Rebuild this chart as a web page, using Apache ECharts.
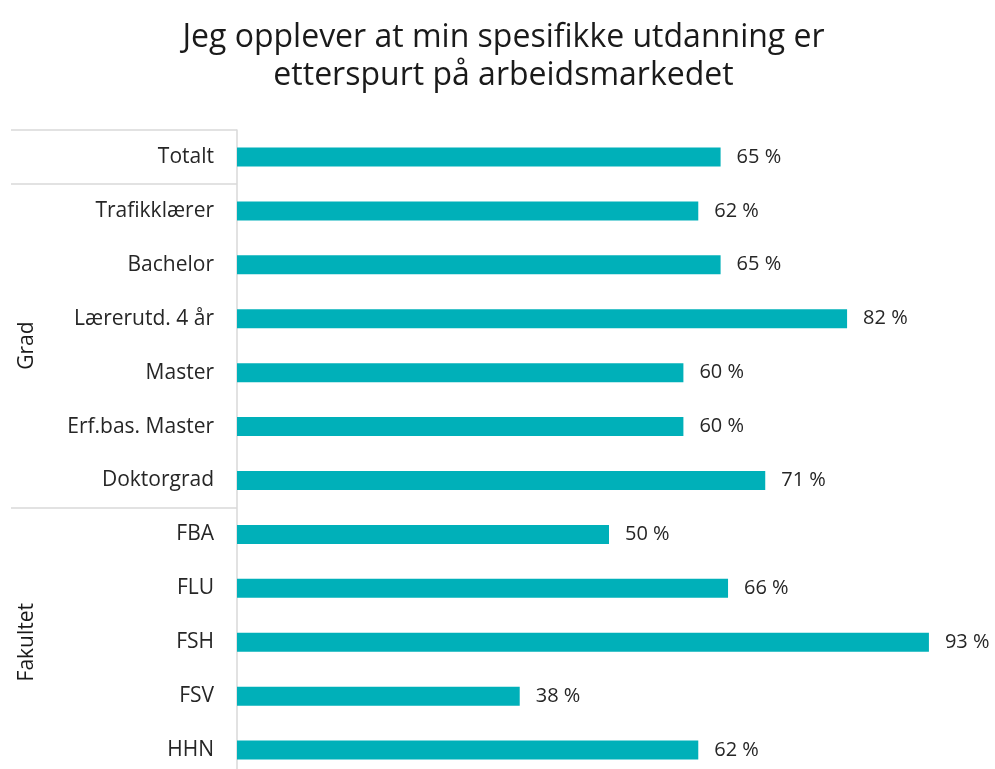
<!DOCTYPE html>
<html><head><meta charset="utf-8">
<script src="https://cdn.jsdelivr.net/npm/echarts@6/dist/echarts.min.js"></script>
<style>html,body{margin:0;padding:0;background:#fff}#c{width:995px;height:769px}</style>
</head><body><div id="c"></div>
<script>
const titleText = "Jeg opplever at min spesifikke utdanning er\netterspurt på arbeidsmarkedet";
const categories = ["Totalt","Trafikklærer","Bachelor","Lærerutd. 4 år","Master","Erf.bas. Master","Doktorgrad","FBA","FLU","FSH","FSV","HHN"];
const values = [65,62,65,82,60,60,71,50,66,93,38,62];
const groups = [
  {name:"Grad", from:"Trafikklærer", to:"Doktorgrad"},
  {name:"Fakultet", from:"FBA", to:"HHN"}
];
const groupStartIdx = [0,1,7];
const FONT = "'Open Sans', 'Noto Sans', sans-serif";

const chart = echarts.init(document.getElementById('c'));
chart.setOption({
  animation:false,
  backgroundColor:'#fff',
  title:{text:titleText,left:'50.1%',textAlign:'center',top:14,
    textStyle:{fontFamily:FONT,fontSize:32,fontWeight:'normal',color:'#1a1a1a',lineHeight:38}},
  grid:{left:237,width:744,top:130,height:647,containLabel:false,outerBoundsMode:'none'},
  xAxis:{type:'value',min:0,max:100,show:false},
  yAxis:{type:'category',data:categories,inverse:true,
    axisLine:{show:true,lineStyle:{color:'#d9d9d9',width:1.5}},
    axisTick:{show:true,length:226,interval:(i)=>groupStartIdx.indexOf(i)>=0,lineStyle:{color:'#d9d9d9',width:1.5}},
    axisLabel:{margin:23,fontFamily:FONT,fontSize:21,color:'#262626'}},
  series:[{type:'bar',data:values,barWidth:19,itemStyle:{color:'#00B0B9'},
    label:{show:true,position:'right',distance:16,formatter:(p)=>p.value+' %',
      fontFamily:FONT,fontSize:20,color:'#262626'}}]
});
const g = groups.map(gr=>{
  const a = chart.convertToPixel({yAxisIndex:0}, gr.from);
  const b = chart.convertToPixel({yAxisIndex:0}, gr.to);
  const step = chart.convertToPixel({yAxisIndex:0}, categories[1]) - chart.convertToPixel({yAxisIndex:0}, categories[0]);
  const mid = ((a - step/2) + (b + step/2))/2;
  return {type:'text',x:27,y:mid,rotation:Math.PI/2,
    style:{text:gr.name,fontFamily:FONT,fontSize:21,fill:'#1a1a1a',align:'center',verticalAlign:'middle'}};
});
chart.setOption({graphic:g});
</script></body></html>
